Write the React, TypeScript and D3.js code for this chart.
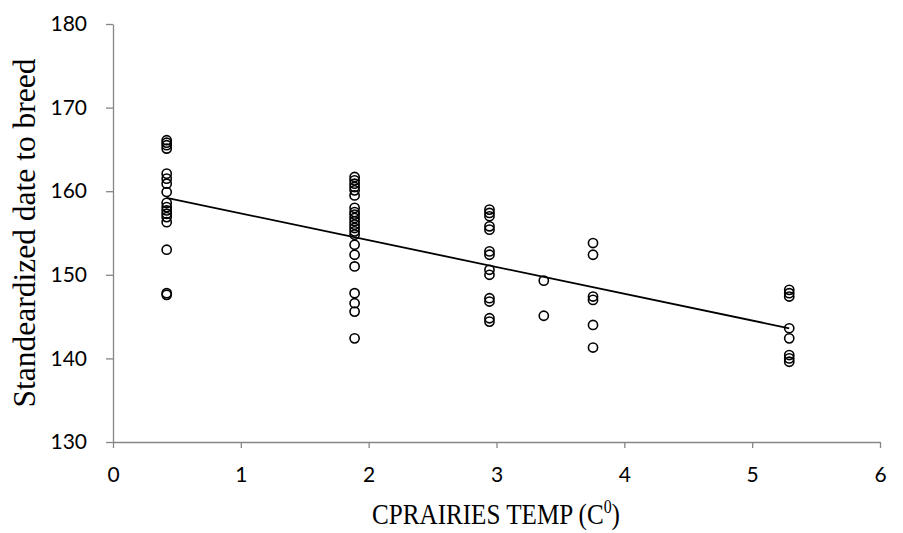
import React, { useRef, useEffect } from "react"
import * as d3 from "d3"

// x positions (temperature) of each column of points
const temps = [0.42, 1.89, 2.945, 3.37, 3.755, 5.29]

// standardized breeding dates for each column
const col042 = [166.1, 165.8, 165.5, 165.1, 162.1, 161.5, 160.9, 159.9, 158.6, 158.1, 157.7, 157.3, 156.9, 156.3, 153.0, 147.8, 147.6]
const col189 = [161.7, 161.3, 160.9, 160.5, 160.1, 159.5, 158.0, 157.5, 157.2, 156.8, 156.4, 156.0, 155.6, 155.2, 154.8, 153.6, 152.4, 151.0, 147.8, 146.6, 145.6, 142.4]
const col295 = [157.8, 157.4, 157.0, 155.8, 155.4, 152.8, 152.4, 150.6, 150.0, 147.2, 146.8, 144.8, 144.4]
const col337 = [149.3, 145.1]
const col376 = [153.8, 152.4, 147.4, 147.0, 144.0, 141.3]
const col529 = [148.2, 147.8, 147.4, 143.6, 142.4, 140.4, 140.0, 139.6]
const columns = [col042, col189, col295, col337, col376, col529]

// fitted trend line
const trendX = [0.42, 5.29]
const trendY = [159.2, 143.6]

const xTicks = [0, 1, 2, 3, 4, 5, 6]
const yTicks = [130, 140, 150, 160, 170, 180]

const width = 903
const height = 533
const margin = { top: 24, right: 23, bottom: 91, left: 113 }
const axisColor = "#868686"
const tickFont = "Lato, 'Open Sans', sans-serif"
const titleFont = "'Liberation Serif', 'Times New Roman', serif"

export default function App() {
  const svgRef = useRef<SVGSVGElement>(null)

  useEffect(() => {
    if (svgRef.current == null) return
    const svg = d3.select(svgRef.current)
    svg.selectAll("*").remove()

    const x = d3
      .scaleLinear()
      .domain([0, 6])
      .range([margin.left, width - margin.right])
    const y = d3
      .scaleLinear()
      .domain([130, 180])
      .range([height - margin.bottom, margin.top])

    // y axis
    const yAxis = svg
      .append("g")
      .attr("transform", `translate(${margin.left},0)`)
      .call(d3.axisLeft(y).tickValues(yTicks).tickSizeInner(7).tickSizeOuter(0).tickPadding(19))
    yAxis.selectAll("path, line").attr("stroke", axisColor).attr("stroke-width", 1.3)
    yAxis
      .selectAll("text")
      .attr("font-family", tickFont)
      .attr("font-size", 21)
      .attr("fill", "#000")

    // x axis
    const xAxis = svg
      .append("g")
      .attr("transform", `translate(0,${height - margin.bottom})`)
      .call(
        d3
          .axisBottom(x)
          .tickValues(xTicks)
          .tickFormat(d3.format("d"))
          .tickSizeInner(6)
          .tickSizeOuter(0)
          .tickPadding(19)
      )
    xAxis.selectAll("path, line").attr("stroke", axisColor).attr("stroke-width", 1.3)
    xAxis
      .selectAll("text")
      .attr("font-family", tickFont)
      .attr("font-size", 21)
      .attr("fill", "#000")

    // points
    const points = columns.flatMap((vals, i) => vals.map(v => [temps[i], v]))
    svg
      .append("g")
      .selectAll("circle")
      .data(points)
      .join("circle")
      .attr("cx", d => x(d[0]))
      .attr("cy", d => y(d[1]))
      .attr("r", 4.6)
      .attr("fill", "none")
      .attr("stroke", "#000")
      .attr("stroke-width", 1.6)

    // trend line
    const line = d3
      .line<number>()
      .x(d => x(trendX[d]))
      .y(d => y(trendY[d]))
    svg
      .append("path")
      .attr("d", line([0, 1]))
      .attr("fill", "none")
      .attr("stroke", "#000")
      .attr("stroke-width", 1.8)

    // x axis title, squeezed horizontally like the original
    const xtGroup = svg.append("g")
    const xt = xtGroup
      .append("text")
      .attr("x", 0)
      .attr("y", 0)
      .attr("text-anchor", "middle")
      .attr("font-family", titleFont)
      .attr("font-size", 30)
    xt.append("tspan").text("CPRAIRIES TEMP (C")
    xt.append("tspan").attr("dy", -11).attr("font-size", 19).text("0")
    xt.append("tspan").attr("dy", 11).text(")")
    const len = (xt.node() as SVGTextElement).getComputedTextLength() || 248
    xtGroup.attr("transform", `translate(496,524) scale(${248 / len},1)`)

    svg
      .append("text")
      .attr("transform", `translate(35,${(margin.top + height - margin.bottom) / 2}) rotate(-90)`)
      .attr("text-anchor", "middle")
      .attr("font-family", titleFont)
      .attr("font-size", 31.5)
      .text("Standeardized date to breed")
  }, [])

  return (
    <svg
      ref={svgRef}
      width={width}
      height={height}
      style={{ position: "absolute", left: 0, top: 0, background: "#fff" }}
    />
  )
}
